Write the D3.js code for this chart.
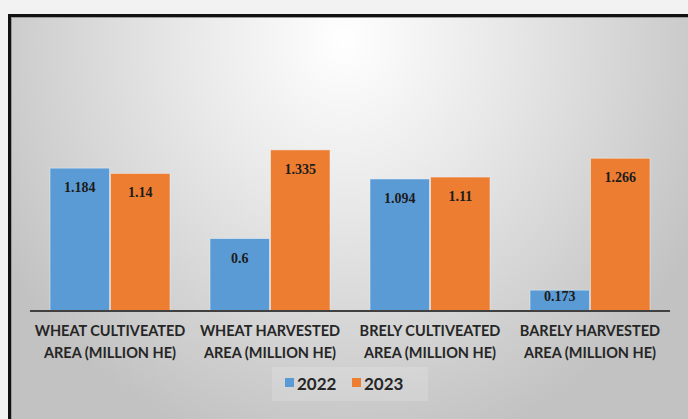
<!DOCTYPE html>
<html>
<head>
<meta charset="utf-8">
<script src="https://cdn.jsdelivr.net/npm/d3@7"></script>
<style>
  html, body { margin: 0; padding: 0; background: #f2f2f2; }
  svg { display: block; }
</style>
</head>
<body>
<script>
// chart data
var categories = [
  ["WHEAT CULTIVEATED", "AREA (MILLION HE)"],
  ["WHEAT HARVESTED", "AREA (MILLION HE)"],
  ["BRELY CULTIVEATED", "AREA (MILLION HE)"],
  ["BARELY HARVESTED", "AREA (MILLION HE)"]
];
var seriesNames = ["2022", "2023"];
var values2022 = [1.184, 0.6, 1.094, 0.173];
var values2023 = [1.14, 1.335, 1.11, 1.266];
var labels2022 = ["1.184", "0.6", "1.094", "0.173"];
var labels2023 = ["1.14", "1.335", "1.11", "1.266"];
var colors = ["#5b9bd5", "#ed7d31"];

var width = 688, height = 419;

var svg = d3.select("body").append("svg")
    .attr("width", width)
    .attr("height", height);

var defs = svg.append("defs");
var grad = defs.append("radialGradient")
    .attr("id", "bg")
    .attr("gradientUnits", "userSpaceOnUse")
    .attr("cx", 344).attr("cy", 40)
    .attr("r", 400)
    .attr("gradientTransform", "translate(344,40) scale(1,1.05) translate(-344,-40)");
grad.append("stop").attr("offset", "0").attr("stop-color", "#ffffff");
grad.append("stop").attr("offset", "0.4").attr("stop-color", "#e8e8e8");
grad.append("stop").attr("offset", "1").attr("stop-color", "#c2c2c2");

// frame
svg.append("rect")
    .attr("x", 8).attr("y", 14)
    .attr("width", width - 8).attr("height", height - 14)
    .attr("fill", "#111");
svg.append("rect")
    .attr("x", 11).attr("y", 17)
    .attr("width", width - 11).attr("height", height - 17)
    .attr("fill", "#9a9a9a");
svg.append("rect")
    .attr("x", 12).attr("y", 18)
    .attr("width", width - 12).attr("height", height - 18)
    .attr("fill", "url(#bg)");

var baseline = 311;
var x0 = d3.scaleBand()
    .domain(d3.range(categories.length))
    .range([30, 670])
    .paddingInner(0.25)
    .paddingOuter(0.125);
var x1 = d3.scaleBand()
    .domain(seriesNames)
    .range([0, x0.bandwidth()])
    .paddingInner(0.02);
var y = d3.scaleLinear()
    .domain([0, 1.5])
    .range([baseline, 130]);

var rows = categories.map(function (c, i) {
  return [
    { s: "2022", v: values2022[i], t: labels2022[i] },
    { s: "2023", v: values2023[i], t: labels2023[i] }
  ];
});

var groups = svg.selectAll(".grp")
    .data(rows)
    .enter().append("g")
    .attr("class", "grp")
    .attr("transform", function (d, i) { return "translate(" + x0(i) + ",0)"; });

groups.selectAll("rect")
    .data(function (d) { return d; })
    .enter().append("rect")
    .attr("x", function (d) { return x1(d.s); })
    .attr("y", function (d) { return y(d.v); })
    .attr("width", x1.bandwidth())
    .attr("height", function (d) { return baseline - y(d.v); })
    .attr("fill", function (d, i) { return colors[i]; })
    .attr("stroke", "#eef3f8")
    .attr("stroke-opacity", 0.6)
    .attr("stroke-width", 0.8);

groups.selectAll("text")
    .data(function (d) { return d; })
    .enter().append("text")
    .attr("x", function (d) { return x1(d.s) + x1.bandwidth() / 2; })
    .attr("y", function (d) { return Math.min(y(d.v) + 24, baseline - 10); })
    .attr("text-anchor", "middle")
    .style("font-family", "'Liberation Serif', 'Times New Roman', serif")
    .style("font-weight", "bold")
    .style("font-size", "14px")
    .style("fill", "#1c1c1c")
    .text(function (d) { return d.t; });

// x axis
var xAxis = d3.axisBottom(x0).tickSize(0).tickFormat("");
var ax = svg.append("g")
    .attr("transform", "translate(0," + baseline + ")")
    .call(xAxis);
ax.select(".domain")
    .attr("stroke", "#404040")
    .attr("stroke-width", 2)
    .attr("d", "M30,0H670");

svg.selectAll(".catlabel")
    .data(categories)
    .enter().append("text")
    .attr("class", "catlabel")
    .attr("x", function (d, i) { return x0(i) + x0.bandwidth() / 2; })
    .attr("y", 336)
    .attr("text-anchor", "middle")
    .style("font-family", "Lato, 'Open Sans', sans-serif")
    .style("font-weight", "bold")
    .style("font-size", "14.5px")
    .style("fill", "#262626")
    .each(function (d) {
      var t = d3.select(this);
      t.append("tspan").attr("x", t.attr("x")).attr("dy", 0).text(d[0]);
      t.append("tspan").attr("x", t.attr("x")).attr("dy", 22).text(d[1]);
    });

// legend
var legend = svg.append("g");
legend.append("rect")
    .attr("x", 272).attr("y", 367)
    .attr("width", 156).attr("height", 34)
    .attr("fill", "#ffffff").attr("fill-opacity", 0.15);
var lx = [285, 352];
seriesNames.forEach(function (s, i) {
  legend.append("rect")
      .attr("x", lx[i]).attr("y", 378)
      .attr("width", 9).attr("height", 9)
      .attr("fill", colors[i]);
  legend.append("text")
      .attr("x", lx[i] + 12).attr("y", 390)
      .style("font-family", "Lato, 'Open Sans', sans-serif")
      .style("font-weight", "bold")
      .style("font-size", "17px")
      .style("fill", "#262626")
      .text(s);
});
</script>
</body>
</html>
